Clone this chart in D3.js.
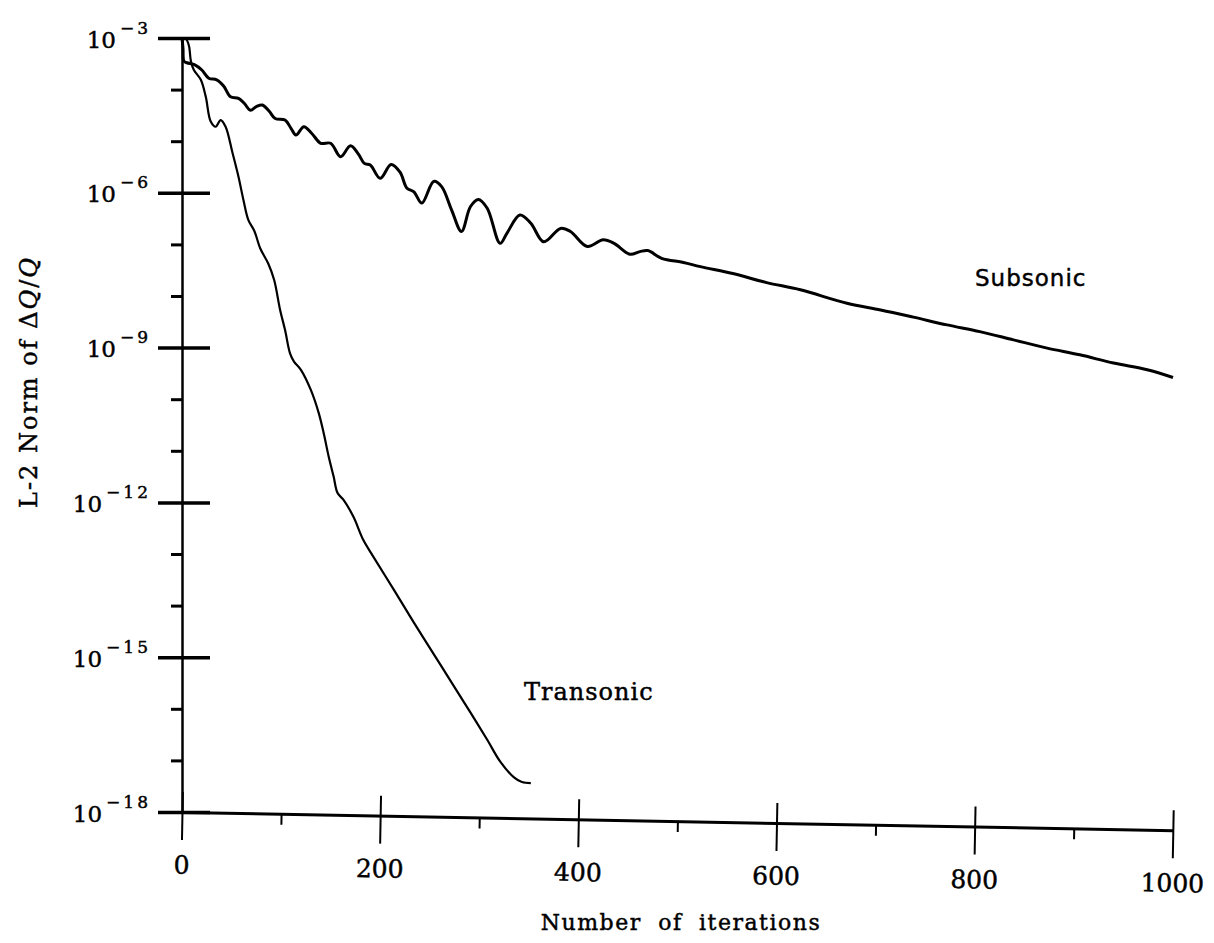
<!DOCTYPE html>
<html><head><meta charset="utf-8">
<script src="https://cdn.jsdelivr.net/npm/d3@7"></script>
<style>body{margin:0;background:#fff} text{stroke:#000;stroke-width:0.45px}</style>
</head><body><svg id="c" width="1214" height="943"></svg>
<script>
// ---- data (iterations, log10 of L-2 norm) ----
const subsonicIter = [0,1,2,5,13,20,27,35,42,49,57,63,69,75,81,88,94,104,110,115,123,131,140,150,160,170,178,184,190,200,211,220,227,234,242,254,262,272,282,291,299,308,321,328,341,352,365,382,392,409,425,436,452,462,470,484,506,523,557,590,624,671,705,738,772,805,839,873,906,940,974,1000];
const subsonicExp  = [-3.0,-3.2,-3.45,-3.48,-3.52,-3.62,-3.78,-3.81,-3.93,-4.14,-4.17,-4.27,-4.40,-4.33,-4.30,-4.42,-4.56,-4.59,-4.75,-4.88,-4.72,-4.85,-5.04,-5.04,-5.30,-5.09,-5.25,-5.43,-5.46,-5.72,-5.45,-5.60,-5.91,-5.98,-6.20,-5.78,-5.88,-6.33,-6.75,-6.27,-6.13,-6.30,-6.98,-6.78,-6.43,-6.59,-6.95,-6.69,-6.75,-7.04,-6.91,-6.98,-7.19,-7.14,-7.12,-7.27,-7.35,-7.43,-7.57,-7.74,-7.88,-8.14,-8.27,-8.41,-8.56,-8.69,-8.85,-9.01,-9.14,-9.30,-9.43,-9.58];
const transonicIter = [0,4,7,9,12,19,24,29,34,39,44,51,57,62,67,73,79,87,93,99,104,109,113,120,130,138,143,148,153,157,163,173,183,193,214,234,254,274,291,308,321,335,343,352];
const transonicExp  = [-3.0,-3.02,-3.15,-3.45,-3.62,-3.81,-4.14,-4.62,-4.72,-4.59,-4.72,-5.23,-5.69,-6.14,-6.53,-6.74,-7.08,-7.37,-7.69,-8.27,-8.66,-9.11,-9.27,-9.43,-9.82,-10.27,-10.66,-11.11,-11.50,-11.82,-11.95,-12.28,-12.73,-13.05,-13.70,-14.33,-14.94,-15.55,-16.07,-16.60,-17.02,-17.33,-17.42,-17.44];
const seriesNames = ["Subsonic", "Transonic"];
const xMajorTicks = [0,200,400,600,800,1000];
const xMinorTicks = [100,300,500,700,900];
const yMajorExp = [-3,-6,-9,-12,-15,-18];
const yMinorExp = [-4,-5,-7,-8,-10,-11,-13,-14,-16,-17];
const xTitle = "Number of iterations";

// ---- layout ----
const svg = d3.select("#c");
const ox = 182, oy = 38, W = 991, H = 774;
const g = svg.append("g").attr("transform", `translate(${ox},${oy})`);
const x = d3.scaleLinear().domain([0, 1000]).range([0, W]);
const y = d3.scaleLog().domain([1e-18, 1e-3]).range([H, 0]);
const serif = "'DejaVu Serif', serif";

// y axis major
const yAx = g.append("g")
  .call(d3.axisLeft(y).tickValues(yMajorExp.map(e => Math.pow(10, e))).tickSize(24).tickSizeOuter(0).tickFormat(() => ""));
yAx.select(".domain").attr("stroke", "#000").attr("stroke-width", 2.5);
yAx.selectAll(".tick line").attr("x1", 28).attr("stroke", "#000").attr("stroke-width", 3.5);
yAx.selectAll(".tick text").remove();
yAx.selectAll(".tick").append("text")
  .attr("x", -31).attr("y", 9)
  .attr("text-anchor", "end")
  .attr("fill", "#000")
  .style("font-family", serif)
  .each(function(d) {
    const e = Math.round(Math.log10(d));
    const t = d3.select(this);
    t.append("tspan").style("font-size", "23px").text("10");
    t.append("tspan").attr("dx", 4).attr("dy", -14).style("font-size", "17px").style("letter-spacing", "3px").text("\u2212" + Math.abs(e));
  });

// y axis minor
const yMin = g.append("g")
  .call(d3.axisLeft(y).tickValues(yMinorExp.map(e => Math.pow(10, e))).tickSize(11).tickSizeOuter(0).tickFormat(() => ""));
yMin.select(".domain").remove();
yMin.selectAll(".tick line").attr("stroke", "#000").attr("stroke-width", 3);

// x axis (slightly skewed as in the scan)
const xg = g.append("g").attr("transform", `translate(0,${H}) rotate(1.05)`);
const xAx = xg.append("g")
  .call(d3.axisBottom(x).tickValues(xMajorTicks).tickSize(28).tickSizeOuter(0).tickPadding(16).tickFormat(d3.format("d")));
xAx.select(".domain").attr("stroke", "#000").attr("stroke-width", 3);
xAx.selectAll(".tick line").attr("y1", -20).attr("stroke", "#000").attr("stroke-width", 2);
xAx.selectAll(".tick text").attr("fill", "#000").style("font-family", serif).style("font-size", "25px");
const xMin = xg.append("g")
  .call(d3.axisBottom(x).tickValues(xMinorTicks).tickSize(11).tickSizeOuter(0).tickFormat(() => ""));
xMin.select(".domain").remove();
xMin.selectAll(".tick line").attr("stroke", "#000").attr("stroke-width", 2);

// curves
const line = d3.line()
  .x(d => x(d[0]))
  .y(d => y(Math.pow(10, d[1])))
  .curve(d3.curveCatmullRom.alpha(0.5));
const subsonic = subsonicIter.map((v, i) => [v, subsonicExp[i]]);
const transonic = transonicIter.map((v, i) => [v, transonicExp[i]]);
g.append("path").datum(subsonic).attr("d", line)
  .attr("fill", "none").attr("stroke", "#000").attr("stroke-width", 3).attr("stroke-linejoin", "round");
g.append("path").datum(transonic).attr("d", line)
  .attr("fill", "none").attr("stroke", "#000").attr("stroke-width", 2.2).attr("stroke-linejoin", "round");

// series labels
svg.append("text").attr("x", 975).attr("y", 286)
  .style("font-family", "'DejaVu Sans', sans-serif").style("font-size", "23px").style("letter-spacing", "1px")
  .attr("fill", "#000").text(seriesNames[0]);
svg.append("text").attr("x", 524).attr("y", 700)
  .style("font-family", serif).style("font-size", "24px").style("letter-spacing", "1px")
  .attr("fill", "#000").text(seriesNames[1]);

// axis titles
svg.append("text").attr("x", 681).attr("y", 930).attr("text-anchor", "middle")
  .style("font-family", serif).style("font-size", "22px").style("letter-spacing", "1.5px").style("word-spacing", "8px")
  .attr("fill", "#000").text(xTitle);

const yt = svg.append("text").attr("transform", "translate(37,382) rotate(-90)").attr("text-anchor", "middle")
  .style("font-family", serif).style("font-size", "24px").style("letter-spacing", "2px").attr("fill", "#000");
yt.append("tspan").text("L-2 Norm of \u0394");
yt.append("tspan").style("font-style", "italic").text("Q");
yt.append("tspan").text("/");
yt.append("tspan").style("font-style", "italic").text("Q");
</script>
</body></html>
